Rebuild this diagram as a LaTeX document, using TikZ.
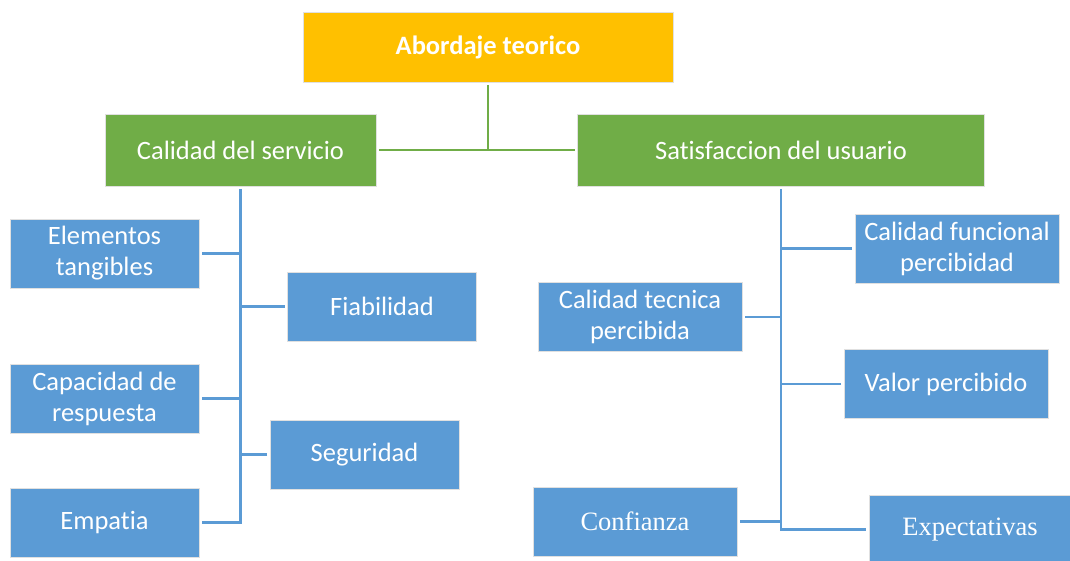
\documentclass[tikz,border=0pt]{standalone}
\usepackage{fontspec}
\setmainfont{Carlito}[Ligatures=NoCommon]
\newfontfamily\timesfont{Liberation Serif}
\usepackage{xcolor}
\usepackage{tikz}
\usetikzlibrary{positioning, calc}

\definecolor{orangebox}{HTML}{FFC000}
\definecolor{greenbox}{HTML}{70AD47}
\definecolor{bluebox}{HTML}{5B9BD5}

\begin{document}
\begin{tikzpicture}[x=1pt, y=-1pt,
	box/.style={draw=black!12, line width=0.8pt, text=white, align=center, inner sep=0pt, outer sep=3pt, font=\fontsize{26.5}{31}\selectfont},
	topbox/.style={box, fill=orangebox, minimum width=370pt, minimum height=70pt, font=\fontsize{26.5}{31}\selectfont\bfseries},
	headbox/.style={box, fill=greenbox, minimum height=72pt},
	leafbox/.style={box, fill=bluebox, minimum height=69pt},
	greenline/.style={greenbox, line width=2.5pt},
	blueline/.style={bluebox, line width=2.5pt}]
\useasboundingbox (0,0) rectangle (1070,561);

% Top and heads
\node[topbox] (abordaje) at (488,47) {Abordaje teorico};
\node[headbox, minimum width=271pt] (calidad) at (240.5,150) {Calidad del servicio};
\node[headbox, minimum width=407pt] (satisf) at (781,150) {Satisfaccion del usuario};

% Left leaves
\node[leafbox, minimum width=189pt] (elementos) at (104.5,253.5) {Elementos\\tangibles};
\node[leafbox, minimum width=189pt] (fiabilidad) at (382,306.5) {Fiabilidad};
\node[leafbox, minimum width=189pt] (capacidad) at (104.5,398.5) {Capacidad de\\respuesta};
\node[leafbox, minimum width=189pt] (seguridad) at (364.5,454.5) {Seguridad};
\node[leafbox, minimum width=189pt] (empatia) at (104.5,522.5) {Empatia};

% Right leaves
\node[leafbox, minimum width=204pt] (funcional) at (957,248.5) {Calidad funcional\\percibidad};
\node[leafbox, minimum width=204pt] (tecnica) at (640,317) {Calidad tecnica\\percibida};
\node[leafbox, minimum width=204pt] (valor) at (946,384) {Valor percibido};
\node[leafbox, minimum width=204pt, font=\fontsize{26.5}{31}\timesfont] (confianza) at (635,521.5) {Confianza};
\node[leafbox, minimum width=202pt, font=\fontsize{26.5}{31}\timesfont] (expect) at (970,529.5) {Expectativas};

% Green connectors
\coordinate (joint) at (abordaje.south |- calidad.east);
\draw[greenline] (abordaje.south) -- (joint);
\draw[greenline] (calidad.east) -- (satisf.west);

% Left trunk
\draw[blueline] (calidad.south) -- (calidad.south |- empatia.east) -- (empatia.east);
\draw[blueline] (elementos.east) -- (elementos.east -| calidad.south);
\draw[blueline] (capacidad.east) -- (capacidad.east -| calidad.south);
\draw[blueline] (fiabilidad.west) -- (fiabilidad.west -| calidad.south);
\draw[blueline] (seguridad.west) -- (seguridad.west -| calidad.south);

% Right trunk
\draw[blueline] (satisf.south) -- (satisf.south |- expect.west) -- (expect.west);
\draw[blueline] (funcional.west) -- (funcional.west -| satisf.south);
\draw[blueline] (valor.west) -- (valor.west -| satisf.south);
\draw[blueline] (tecnica.east) -- (tecnica.east -| satisf.south);
\draw[blueline] (confianza.east) -- (confianza.east -| satisf.south);

\end{tikzpicture}
\end{document}
